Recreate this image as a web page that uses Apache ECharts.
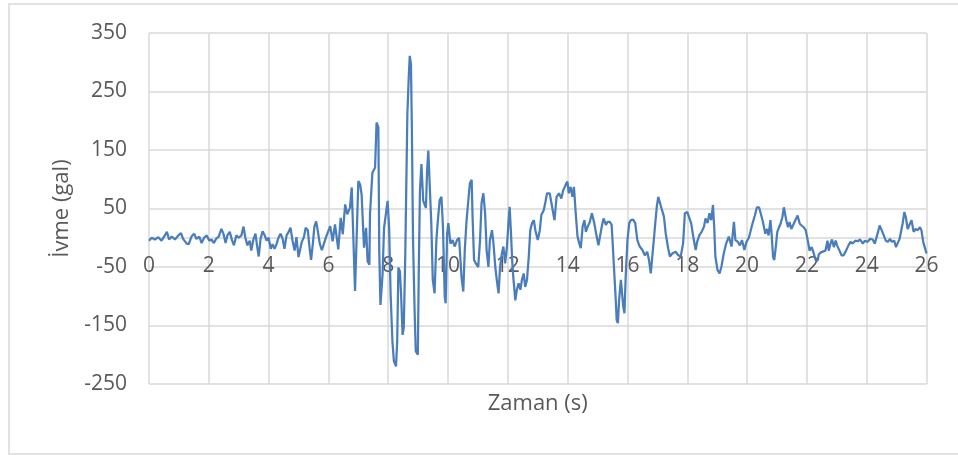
<!DOCTYPE html>
<html>
<head>
<meta charset="utf-8">
<script src="https://cdn.jsdelivr.net/npm/echarts@6/dist/echarts.min.js"></script>
<style>
html,body{margin:0;padding:0;background:#fff;}
#chart{width:958px;height:455px;}
</style>
</head>
<body>
<div id="chart"></div>
<script>
const time = [
0,0.09,0.2,0.31,0.42,0.53,0.6,0.67,0.76,0.87,0.98,1.07,1.14,1.26,1.33,1.42,1.51,1.59,1.68,1.76,1.84,1.93,
2.02,2.09,2.17,2.24,2.33,2.42,2.49,2.56,2.62,2.7,2.78,2.84,2.92,3.0,3.09,3.16,3.22,3.29,3.37,3.42,3.49,3.56,3.62,3.67,3.73,3.8,3.87,3.93,
4.0,4.07,4.13,4.2,4.27,4.33,4.4,4.47,4.53,4.6,4.67,4.73,4.8,4.87,4.93,5.0,5.04,5.11,5.18,5.24,5.31,5.38,5.42,5.48,5.53,5.59,5.64,5.71,5.78,5.84,5.92,
6.06,6.14,6.22,6.33,6.41,6.48,6.56,6.63,6.72,6.78,6.83,6.89,6.94,7.0,7.06,7.11,7.19,7.26,7.31,7.37,7.39,7.47,7.56,7.61,7.67,7.7,7.74,7.81,7.86,7.92,7.98,
8.03,8.08,8.14,8.19,8.26,8.3,8.34,8.39,8.43,8.48,8.52,8.57,8.61,8.64,8.69,8.72,8.76,8.79,8.83,8.88,8.92,8.99,9.02,9.06,9.11,9.17,9.26,9.3,9.34,9.38,
9.44,9.49,9.55,9.61,9.66,9.72,9.78,9.83,9.89,9.92,9.97,10.01,10.08,10.15,10.22,10.3,10.37,10.45,10.51,10.56,10.62,10.67,10.73,10.79,10.82,10.87,10.93,
11.01,11.07,11.12,11.18,11.24,11.29,11.35,11.4,11.47,11.52,11.58,11.63,11.69,11.74,11.8,11.85,11.91,11.97,12.02,12.06,12.1,12.15,12.19,12.25,12.3,12.36,
12.42,12.47,12.53,12.58,12.64,12.7,12.75,12.81,12.87,12.92,13.0,13.07,13.12,13.2,13.26,13.31,13.4,13.48,13.56,13.63,13.71,13.79,13.85,13.93,13.99,
14.04,14.1,14.16,14.21,14.27,14.33,14.39,14.44,14.5,14.56,14.61,14.67,14.74,14.81,14.89,14.97,15.03,15.09,15.14,15.2,15.28,15.33,15.41,15.47,15.5,
15.56,15.61,15.64,15.68,15.72,15.78,15.81,15.86,15.9,15.94,16.0,16.06,16.11,16.19,16.26,16.33,16.41,16.5,16.58,16.66,16.72,16.78,16.82,16.87,16.92,
16.98,17.03,17.08,17.14,17.22,17.28,17.36,17.42,17.5,17.61,17.7,17.78,17.86,17.92,18.0,18.06,18.13,18.2,18.28,18.33,18.41,18.48,18.56,18.61,18.68,
18.74,18.8,18.86,18.9,18.94,19.01,19.08,19.14,19.22,19.3,19.39,19.48,19.56,19.61,19.69,19.76,19.83,19.91,19.98,20.06,20.18,20.26,20.33,20.4,20.46,
20.53,20.61,20.67,20.72,20.78,20.82,20.87,20.91,20.96,21.01,21.07,21.12,21.18,21.23,21.27,21.31,21.37,21.42,21.48,21.56,21.62,21.69,21.76,21.82,
21.89,21.96,22.02,22.09,22.16,22.22,22.29,22.36,22.4,22.47,22.53,22.62,22.69,22.73,22.79,22.84,22.9,22.96,23.01,23.09,23.16,23.23,23.31,23.39,
23.46,23.53,23.62,23.7,23.78,23.87,23.94,24.03,24.11,24.2,24.27,24.32,24.38,24.43,24.5,24.57,24.64,24.71,24.78,24.84,24.92,24.98,25.03,25.1,
25.16,25.2,25.26,25.31,25.37,25.42,25.5,25.57,25.64,25.71,25.78,25.83,25.89,25.94,26.0
];
const accel = [
-5,0,-3,1,-5,4,10,-3,2,-3,4,8,-2,-10,-11,2,7,-2,2,-9,0,4,
-5,-3,-9,-2,2,15,7,-9,4,10,-5,-13,4,0,4,19,1,-13,-5,-22,-3,7,-16,-32,-2,11,4,-5,
0,-19,-11,-19,-10,0,7,-2,-19,4,10,17,-5,-22,1,-33,-36,-7,1,17,13,-22,-38,-10,19,28,13,-10,-21,-22,1,
20,-6,23,-20,34,6,57,40,51,86,89,-91,-6,97,91,74,-17,17,-40,-46,40,111,120,197,189,-23,-115,-63,17,40,63,
17,-97,-177,-211,-220,-177,-51,-57,-97,-166,-154,-29,109,211,280,311,297,189,-6,-120,-194,-200,-63,80,126,63,51,114,149,150,
25,-72,-95,-4,30,64,70,19,-101,-112,7,25,-10,-4,-15,-4,0,-67,-92,-21,30,59,93,99,36,-38,-44,
-50,-4,59,76,42,-21,-50,-4,13,-10,-50,-72,-95,-50,-27,-15,-44,-15,25,53,13,-44,-72,-107,-89,-78,
-89,-72,-61,-84,-72,-32,13,25,30,13,-4,13,39,47,62,76,76,53,30,70,76,67,81,90,96,
76,87,70,87,42,2,-10,-18,19,30,10,19,27,42,25,2,-13,-10,19,33,22,27,27,22,-4,
-61,-107,-141,-146,-107,-72,-89,-118,-129,-67,-4,25,30,31,25,-4,-15,-21,-30,-24,-38,-61,-64,-10,19,
53,70,73,50,36,7,-18,-32,-27,-24,-30,-32,-10,42,44,42,25,2,-21,-7,5,10,19,33,25,
42,30,56,19,-32,-55,-61,-50,-27,-10,2,-15,27,-4,-7,-13,-4,-21,-7,0,24,38,52,52,41,
27,7,15,4,30,7,-33,-38,-16,10,18,24,35,52,55,30,18,27,15,24,27,38,24,27,
18,13,-2,-22,-16,-25,-38,-39,-28,-25,-26,-22,-5,-22,-10,-3,-16,-5,-13,-22,-30,-30,-22,-13,
-7,-10,-5,-6,-3,-10,-5,-7,-2,-3,-10,-13,10,21,13,4,-5,-7,-2,-7,-5,-16,-13,-2,
1,24,44,35,15,21,30,10,15,13,18,13,-7,-16,-27
];
const xTicks = [0,2,4,6,8,10,12,14,16,18,20,22,24,26];
const yTicks = [-250,-150,-50,50,150,250,350];

const font = '"Open Sans", "Noto Sans", sans-serif';
const gridColor = '#d9d9d9';
const textColor = '#595959';

const chart = echarts.init(document.getElementById('chart'), null, {renderer: 'canvas'});
chart.setOption({
  animation: false,
  graphic: [{
    type: 'rect',
    shape: {x: 9, y: 4, width: 960, height: 450},
    style: {fill: 'none', stroke: '#d9d9d9', lineWidth: 1.5},
    silent: true
  }],
  grid: {left: 149, right: 31.5, top: 33, bottom: 71, containLabel: false, outerBoundsMode: 'none'},
  xAxis: {
    type: 'value',
    min: xTicks[0],
    max: xTicks[xTicks.length - 1],
    interval: xTicks[1] - xTicks[0],
    position: 'bottom',
    offset: 0,
    axisLine: {show: true, onZero: false, lineStyle: {color: gridColor, width: 1.5}},
    axisTick: {show: false},
    axisLabel: {color: textColor, fontSize: 21, fontFamily: font, margin: 18},
    splitLine: {show: true, lineStyle: {color: gridColor, width: 1.5}},
    name: 'Zaman (s)',
    nameLocation: 'middle',
    nameGap: 155,
    nameTextStyle: {color: textColor, fontSize: 22, fontFamily: font}
  },
  yAxis: {
    type: 'value',
    min: yTicks[0],
    max: yTicks[yTicks.length - 1],
    interval: yTicks[1] - yTicks[0],
    axisLine: {show: false, onZero: false},
    axisTick: {show: false},
    axisLabel: {color: textColor, fontSize: 21, fontFamily: font, margin: 22},
    splitLine: {show: true, lineStyle: {color: gridColor, width: 1.5}},
    name: 'İvme (gal)',
    nameLocation: 'middle',
    nameGap: 76,
    nameTextStyle: {color: textColor, fontSize: 22, fontFamily: font}
  },
  series: [{
    type: 'line',
    data: time.map((t, i) => [t, accel[i]]),
    showSymbol: false,
    symbol: 'none',
    lineStyle: {color: '#4a7ebb', width: 2.25},
    itemStyle: {color: '#4a7ebb'}
  }]
});

// Place the horizontal axis line where the vertical scale has its zero (as in the source chart)
const zeroPx = chart.convertToPixel({yAxisIndex: 0}, 0);
const bottomPx = chart.convertToPixel({yAxisIndex: 0}, yTicks[0]);
chart.setOption({xAxis: {offset: zeroPx - bottomPx}});
</script>
</body>
</html>
